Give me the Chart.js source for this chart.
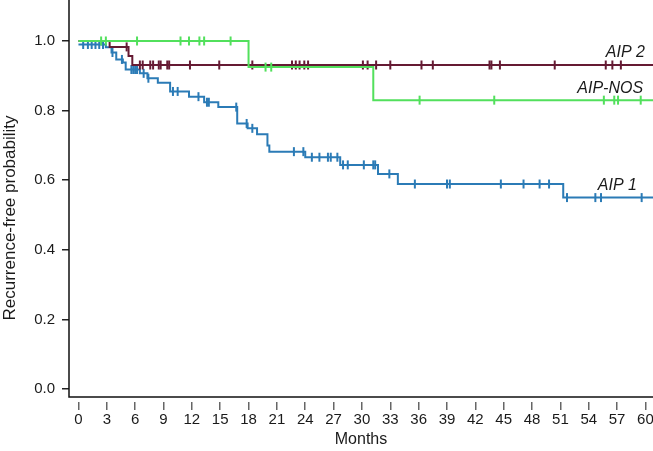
<!DOCTYPE html>
<html>
<head>
<meta charset="utf-8">
<script src="https://cdn.jsdelivr.net/npm/chart.js@4.4.1/dist/chart.umd.min.js"></script>
<style>
  html, body { margin: 0; padding: 0; background: #fff; }
  #wrap { width: 653px; height: 451px; }
</style>
</head>
<body>
<div id="wrap"><canvas id="kmChart"></canvas></div>
<script>
// axis ticks
const xTicks = [0, 3, 6, 9, 12, 15, 18, 21, 24, 27, 30, 33, 36, 39, 42, 45, 48, 51, 54, 57, 60];
const yTicks = [0, 0.2, 0.4, 0.6, 0.8, 1.0];

// AIP 1 - step times (months) and survival after each step
const aip1Times = [0, 2.9, 3.5, 4.0, 4.7, 5.0, 6.5, 7.3, 8.4, 9.7, 11.7, 13.3, 14.8, 16.8, 17.9, 18.9, 20.0, 20.2, 24.0, 27.7, 31.7, 33.8, 51.3, 60.8];
const aip1Surv = [0.99, 0.982, 0.967, 0.947, 0.938, 0.918, 0.907, 0.893, 0.880, 0.855, 0.840, 0.824, 0.810, 0.763, 0.749, 0.732, 0.700, 0.682, 0.666, 0.644, 0.618, 0.589, 0.550, 0.550];
const aip1Censor = [0.5, 1.0, 1.4, 1.8, 2.2, 2.6, 3.6, 4.6, 5.6, 5.8, 6.0, 6.2, 6.9, 7.4, 10.0, 10.5, 12.7, 13.6, 13.8, 16.7, 17.8, 18.4, 22.8, 23.8, 24.7, 25.5, 26.4, 26.7, 27.4, 28.0, 28.5, 30.2, 31.2, 31.4, 32.9, 35.6, 39.0, 39.3, 44.7, 47.1, 48.8, 49.8, 51.7, 54.7, 55.3, 59.6];

// AIP 2
const aip2Times = [0, 3.3, 5.3, 5.7, 60.8];
const aip2Surv = [1.0, 0.983, 0.957, 0.931, 0.931];
const aip2Censor = [5.1, 6.5, 6.8, 7.6, 7.9, 8.5, 8.7, 9.4, 9.6, 11.8, 14.9, 18.4, 22.6, 23.0, 23.4, 23.9, 24.3, 30.1, 30.6, 31.5, 33.0, 36.3, 37.5, 43.5, 43.7, 44.6, 50.4, 55.8, 56.5, 57.4];

// AIP-NOS
const nosTimes = [0, 18.0, 31.2, 60.8];
const nosSurv = [1.0, 0.925, 0.83, 0.83];
const nosCensor = [2.4, 2.9, 6.2, 10.8, 11.7, 12.8, 13.3, 16.1, 19.8, 20.4, 36.1, 44.0, 55.6, 56.7, 57.1, 59.5];

const curveNames = ['AIP 2', 'AIP-NOS', 'AIP 1'];

const FONT = "'Liberation Sans', Arial, sans-serif";
const TEXT = '#1a1a1a';
const BLUE = '#2b7bb6', MAROON = '#651a33', GREEN = '#52e05c';

function steps(times, surv) {
  return times.map((t, i) => ({ x: t, y: surv[i] }));
}
// censor mark sits on the curve value at that time
function marks(times, surv, cens) {
  return cens.map(c => {
    let y = surv[0];
    for (let i = 0; i < times.length; i++) if (times[i] <= c) y = surv[i];
    return { x: c, y: y };
  });
}

function curve(data, color) {
  return { data, borderColor: color, borderWidth: 2, stepped: true, pointRadius: 0, fill: false };
}
function censors(data, color) {
  return { data, showLine: false, borderColor: color, backgroundColor: color, pointStyle: 'line',
    rotation: 90, pointRadius: 4.5, borderWidth: 2 };
}

// curve name positions (right edge, vertical centre)
const labelSpots = [[59.95, 0.966], [59.75, 0.862], [59.1, 0.586]];

// axis lines, tick labels, y title and curve names
const extras = {
  id: 'extras',
  afterDraw(chart) {
    const { ctx, chartArea: a, scales: { x, y } } = chart;
    ctx.save();
    ctx.strokeStyle = '#111';
    ctx.lineWidth = 1.5;
    ctx.beginPath();
    ctx.moveTo(a.left, 0);
    ctx.lineTo(a.left, a.bottom - 5);
    ctx.lineTo(a.right, a.bottom - 5);
    ctx.stroke();

    ctx.fillStyle = TEXT;
    ctx.font = '15px ' + FONT;
    ctx.textBaseline = 'middle';
    ctx.textAlign = 'center';
    x.ticks.forEach(t => ctx.fillText(String(t.value), x.getPixelForValue(t.value), a.bottom + 18));
    ctx.textAlign = 'right';
    y.ticks.forEach(t => ctx.fillText(t.value.toFixed(1), a.left - 14, y.getPixelForValue(t.value)));

    ctx.save();
    ctx.translate(10, y.getPixelForValue(0.5) + 3);
    ctx.rotate(-Math.PI / 2);
    ctx.textAlign = 'center';
    ctx.font = '17px ' + FONT;
    ctx.fillText('Recurrence-free probability', 0, 0);
    ctx.restore();

    ctx.font = 'italic 16px ' + FONT;
    ctx.textAlign = 'right';
    curveNames.forEach((n, i) => {
      ctx.fillText(n, x.getPixelForValue(labelSpots[i][0]), y.getPixelForValue(labelSpots[i][1]));
    });
    ctx.restore();
  }
};

new Chart(document.getElementById('kmChart'), {
  type: 'line',
  data: {
    datasets: [
      curve(steps(nosTimes, nosSurv), GREEN),
      censors(marks(nosTimes, nosSurv, nosCensor), GREEN),
      curve(steps(aip2Times, aip2Surv), MAROON),
      censors(marks(aip2Times, aip2Surv, aip2Censor), MAROON),
      curve(steps(aip1Times, aip1Surv), BLUE),
      censors(marks(aip1Times, aip1Surv, aip1Censor), BLUE)
    ]
  },
  options: {
    responsive: true,
    maintainAspectRatio: false,
    animation: false,
    events: [],
    layout: { padding: 0, autoPadding: false },
    plugins: { legend: { display: false }, tooltip: { enabled: false } },
    scales: {
      x: {
        type: 'linear', min: -1.0, max: 60.8,
        afterBuildTicks: s => { s.ticks = xTicks.map(v => ({ value: v })); },
        afterFit: s => { s.height = 49; },
        border: { display: false },
        grid: { drawOnChartArea: false, tickLength: 8, color: '#666', lineWidth: 1.5 },
        ticks: { display: false },
        title: { display: true, text: 'Months', color: TEXT, font: { family: FONT, size: 16 }, padding: { top: 0, bottom: 2 } }
      },
      y: {
        min: -0.0374, max: 1.1178,
        afterBuildTicks: s => { s.ticks = yTicks.map(v => ({ value: v })); },
        afterFit: s => { s.width = 69; },
        border: { display: false },
        grid: { drawOnChartArea: false, tickLength: 7, color: '#222', lineWidth: 1.5 },
        ticks: { display: false }
      }
    }
  },
  plugins: [extras]
});
</script>
</body>
</html>
